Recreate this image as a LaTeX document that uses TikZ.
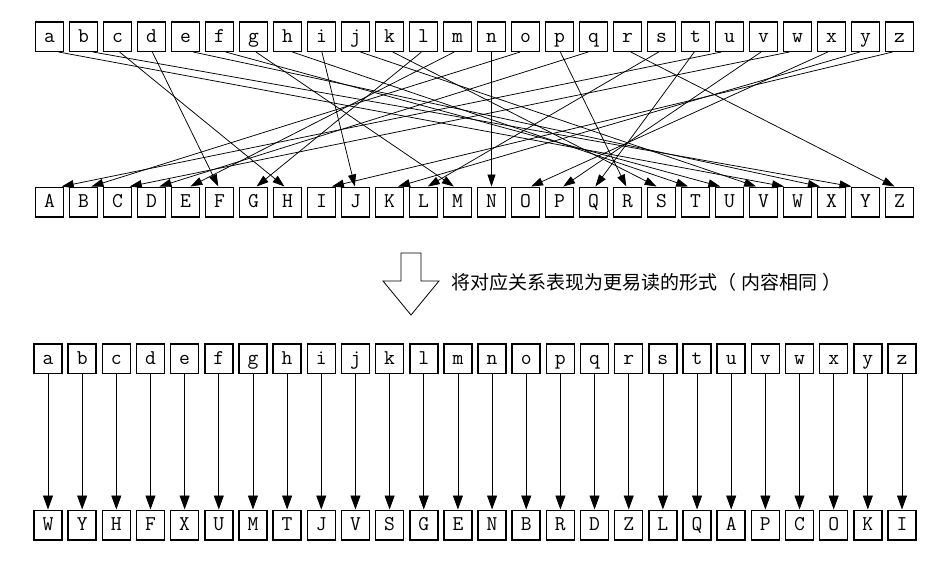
\documentclass[tikz,border=0pt]{standalone}
\usepackage{fontspec}
\newfontfamily\cjk{Noto Sans CJK SC}
\usetikzlibrary{arrows.meta}
\begin{document}
\begin{tikzpicture}[x=1pt,y=-1pt,
  letterbox/.style={draw, line width=1.5pt, minimum width=28pt, minimum height=29.5pt,
    inner sep=0pt, text height=11.5pt, text depth=0pt,
    font=\ttfamily\fontsize{21}{21}\selectfont},
  crossedge/.style={line width=0.75pt, -{Triangle[length=12pt,width=8pt]}},
  straightedge/.style={line width=0.75pt, -{Triangle[length=14pt,width=10pt]}},
  caption/.style={font=\cjk\fontsize{19}{19}\selectfont, anchor=west, inner sep=0pt}]
\useasboundingbox (0,0) rectangle (942,562);
% upper section
\foreach \l [count=\i from 0] in {a,...,z}
  \node[letterbox] (\l) at (49.5+34*\i,36.5) {\l};
\foreach \l [count=\i from 0] in {A,...,Z}
  \node[letterbox] (\l) at (49.5+34*\i,202) {\l};
\foreach \s/\T/\t [count=\i from 0] in {a/W/22,b/Y/24,c/H/7,d/F/5,e/X/23,f/U/20,g/M/12,h/T/19,i/J/9,j/V/21,k/S/18,l/G/6,m/E/4,n/N/13,o/B/1,p/R/17,q/D/3,r/Z/25,s/L/11,t/Q/16,u/A/0,v/P/15,w/C/2,x/O/14,y/K/10,z/I/8}{
  \pgfmathsetmacro\dx{34*(\t-\i)}
  \pgfmathsetmacro\so{max(-12,min(12,0.012*\dx))}
  \pgfmathsetmacro\eo{max(-14,min(14,-0.018*\dx))}
  \draw[crossedge] ([xshift=\so pt]\s.south) -- ([xshift=\eo pt]\T.north);
}
% hollow arrow and caption
\draw[line width=0.8pt] (401,253) -- (421,253) -- (421,281) -- (439,281) -- (411,315)
  -- (383,281) -- (401,281) -- cycle;
\node[caption] (cap) at (451,282) {将对应关系表现为更易读的形式（\hspace{5pt}内容相同\hspace{5pt}）};
% lower section
\foreach \l/\T [count=\i from 0] in {a/W,b/Y,c/H,d/F,e/X,f/U,g/M,h/T,i/J,j/V,k/S,l/G,m/E,n/N,o/B,p/R,q/D,r/Z,s/L,t/Q,u/A,v/P,w/C,x/O,y/K,z/I}{
  \node[letterbox] (l\l) at (48+34.16*\i,358.5) {\l};
  \node[letterbox] (r\l) at (48+34.16*\i,525) {\T};
  \draw[straightedge] (l\l.south) -- (r\l.north);
}
\end{tikzpicture}
\end{document}
